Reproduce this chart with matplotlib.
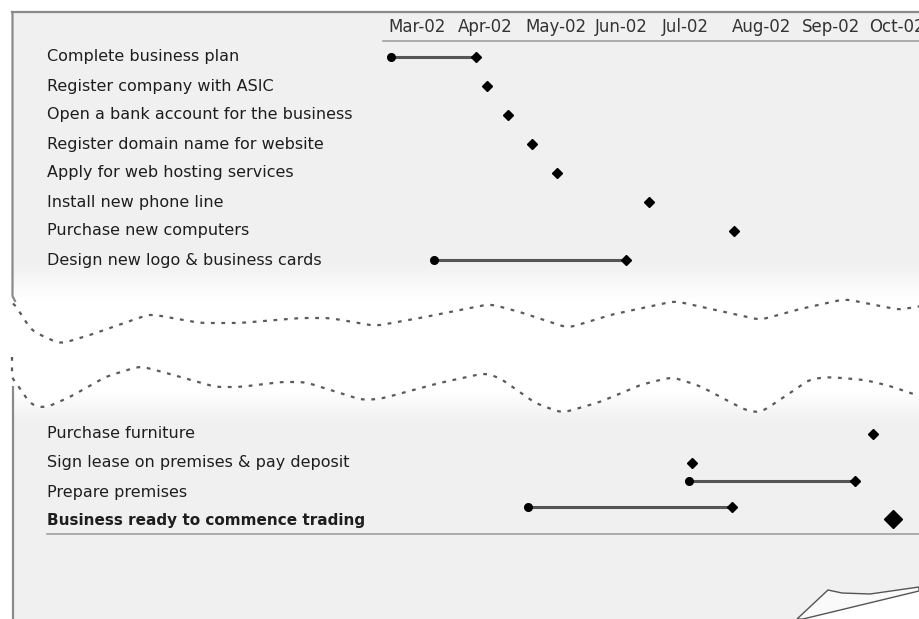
import numpy as np
import pandas as pd
import matplotlib
matplotlib.use("Agg")
import matplotlib.pyplot as plt
import matplotlib.dates as mdates
from matplotlib.patches import Rectangle, Polygon

# ---- data ----
upper_tasks = ["Complete business plan",
               "Register company with ASIC",
               "Open a bank account for the business",
               "Register domain name for website",
               "Apply for web hosting services",
               "Install new phone line",
               "Purchase new computers",
               "Design new logo & business cards"]
upper_start = ["2002-03-02", "2002-04-14", "2002-04-23", "2002-05-04",
               "2002-05-15", "2002-06-25", "2002-08-02", "2002-03-21"]
upper_end = ["2002-04-09", None, None, None, None, None, None, "2002-06-15"]

lower_tasks = ["Purchase furniture",
               "Sign lease on premises & pay deposit",
               "Prepare premises",
               "Business ready to commence trading"]
lower_lanes = [13, 14, 15, 16]
# marks in the lower part (lane)
lower_start = ["2002-10-03", "2002-07-14", "2002-07-13", "2002-05-02", "2002-10-12"]
lower_end = [None, None, "2002-09-25", "2002-08-01", None]
lower_lane = [13, 14, 14.62, 15.52, 15.93]
lower_big = [False, False, False, False, True]

months = ["Mar-02", "Apr-02", "May-02", "Jun-02", "Jul-02", "Aug-02", "Sep-02", "Oct-02"]
month_start = pd.date_range("2002-03-01", periods=len(months), freq="MS")

# tear outline (decoration), pixel points
tear_top_x = [13, 30, 60, 90, 150, 200, 240, 300, 330, 375, 420, 490, 520, 568,
              610, 675, 720, 760, 800, 845, 900, 919]
tear_top_y = [300, 330, 344, 335, 314, 323, 323, 318, 318, 326, 318, 304, 312, 328,
              315, 301, 311, 320, 309, 299, 310, 306]
tear_bot_x = [12, 15, 30, 45, 70, 105, 140, 170, 215, 240, 280, 305, 362, 380, 435,
              485, 500, 535, 562, 600, 640, 672, 700, 745, 760, 790, 810, 830, 865,
              890, 919]
tear_bot_y = [377, 380, 405, 408, 397, 377, 366, 374, 387, 387, 382, 382, 400, 399,
              384, 373, 378, 403, 413, 402, 385, 377, 386, 410, 413, 393, 379, 377,
              380, 386, 396]

W, H = 919, 619
GREY = "#f0f0f0"
TXT = "#1e1e1e"
plt.rcParams["font.family"] = ["DejaVu Sans"]

fig = plt.figure(figsize=(W / 100, H / 100), dpi=100)
fig.patch.set_facecolor("white")

# pixel axes for the paper decoration
axp = fig.add_axes([0, 0, 1, 1])
axp.set_xlim(0, W)
axp.set_ylim(H, 0)
axp.axis("off")

axp.add_patch(Rectangle((12, 12), W, H, facecolor=GREY, edgecolor="none", zorder=0))


def smooth(x, y, xs, s=5):
    v = np.interp(xs, x, y)
    k = np.exp(-0.5 * (np.arange(-3 * s, 3 * s + 1) / s) ** 2)
    k /= k.sum()
    p = np.pad(v, 3 * s, mode="edge")
    return np.convolve(p, k, mode="valid")


xs = np.arange(12, W + 1).astype(float)
top = smooth(tear_top_x, tear_top_y, xs)
bot = smooth(tear_bot_x, tear_bot_y, xs)

# white gap between the two torn pieces, with a soft fade on each edge
ys = np.arange(240, 460).astype(float)
Y = np.repeat(ys[:, None], len(xs), axis=1)
T = top[None, :]
B = bot[None, :]
val = np.ones(Y.shape)
up = Y < T
dn = Y > B
val[up] = (1 - 0.06 * np.clip((302 - Y) / 40, 0, 1))[up]
val[dn] = (1 - 0.06 * np.clip((Y - 388) / 34, 0, 1))[dn]
axp.imshow(val, cmap="gray", vmin=0, vmax=1, extent=(12, W, 460, 240),
           aspect="auto", interpolation="none", zorder=1)

dash = (0, (1.7, 3.0))
axp.plot(xs[1:], top[1:], color="#5a5a5a", lw=1.6, ls=dash, zorder=2)
axp.plot(np.r_[12, 12, xs[3:]], np.r_[357, 377, bot[3:]], color="#5a5a5a",
         lw=1.6, ls=dash, zorder=2)

# paper border
bc = "#8a8a8a"
axp.plot([12, W], [12, 12], color=bc, lw=1.6, zorder=3)
axp.plot([12.5, 12.5, 15], [12, 296, 301], color=bc, lw=1.6, zorder=3)
axp.plot([12.5, 12.5], [387, H], color=bc, lw=1.6, zorder=3)

# header and footer rules
axp.plot([383, W], [41, 41], color="#a0a0a0", lw=1.2, zorder=3)
axp.plot([47, W], [534, 534], color="#a0a0a0", lw=1.2, zorder=3)

# page curl in the corner
axp.add_patch(Polygon([[803, H], [W, 591], [W, H]], facecolor="white",
                      edgecolor="none", zorder=3))
axp.add_patch(Polygon([[797, H], [828, 590], [842, 593], [870, 594], [W, 587],
                       [W, 591], [803, H]], facecolor="#fafafa",
                      edgecolor="#555555", lw=1.0, zorder=4))

# data axes: dates on x, lanes on y
ax = fig.add_axes([0, 0, 1, 1])
d0 = mdates.date2num(pd.Timestamp("2002-03-01"))
ppd = 2.243
x0 = 388.7
ax.set_xlim(d0 - x0 / ppd, d0 + (W - x0) / ppd)
ax.set_ylim((H - 57) / 29, -57 / 29)
ax.axis("off")

for m, d in zip(months, month_start):
    ax.text(d, -1.03, m, ha="left", va="center", fontsize=12, color="#333333")

lab_x = -0.5 + (48 - x0) / ppd + d0
for i, name in enumerate(upper_tasks):
    ax.text(lab_x, i, name, ha="left", va="center", fontsize=11.5, color=TXT)
for lane, name in zip(lower_lanes, lower_tasks):
    bold = name.startswith("Business ready")
    ax.text(lab_x, lane, name, ha="left", va="center",
            fontsize=11 if bold else 11.5, color=TXT,
            fontweight="bold" if bold else "normal")


def draw_mark(s, e, lane, big=False):
    s = pd.Timestamp(s)
    if e is None:
        ax.plot([s], [lane], marker="D", ms=9.5 if big else 5, color="black",
                mec="black", zorder=5)
        return
    e = pd.Timestamp(e)
    ax.plot([s, e], [lane, lane], color="#555555", lw=2.2, zorder=4)
    ax.plot([s], [lane], marker="o", ms=5.5, color="black", zorder=5)
    ax.plot([e], [lane], marker="D", ms=5, color="black", zorder=5)


for i, (s, e) in enumerate(zip(upper_start, upper_end)):
    draw_mark(s, e, i)
for s, e, lane, big in zip(lower_start, lower_end, lower_lane, lower_big):
    draw_mark(s, e, lane, big)

fig.savefig("out.png", dpi=100, facecolor="white")
